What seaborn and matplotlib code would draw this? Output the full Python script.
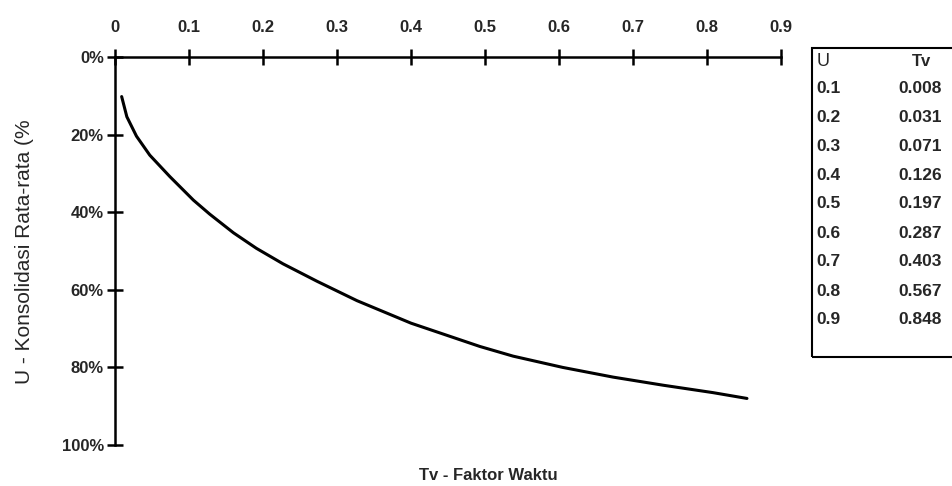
import matplotlib
matplotlib.use("Agg")
import matplotlib.pyplot as plt
import seaborn as sns
import pandas as pd
from matplotlib.patches import Rectangle

# Curve (Tv, U in %)
tv_curve = [0.009, 0.016, 0.029, 0.047, 0.074, 0.106, 0.128, 0.160, 0.191, 0.227,
            0.273, 0.327, 0.40, 0.493, 0.538, 0.605, 0.673, 0.741, 0.808, 0.854]
u_curve = [10.2, 15.4, 20.4, 25.3, 30.8, 36.9, 40.5, 45.3, 49.3, 53.3,
           57.8, 62.8, 68.6, 74.6, 77.1, 80.0, 82.5, 84.6, 86.5, 88.0]

# Table values
table_u = ["0.1", "0.2", "0.3", "0.4", "0.5", "0.6", "0.7", "0.8", "0.9"]
table_tv = ["0.008", "0.031", "0.071", "0.126", "0.197", "0.287", "0.403", "0.567", "0.848"]

x_ticks = [0, 0.1, 0.2, 0.3, 0.4, 0.5, 0.6, 0.7, 0.8, 0.9]
x_tick_labels = ["0", "0.1", "0.2", "0.3", "0.4", "0.5", "0.6", "0.7", "0.8", "0.9"]
y_ticks = [0, 20, 40, 60, 80, 100]
y_tick_labels = ["0%", "20%", "40%", "60%", "80%", "100%"]

sns.set_style("white")
plt.rcParams["font.family"] = ["Liberation Sans", "DejaVu Sans"]

W, H = 952, 486
fig = plt.figure(figsize=(W / 100, H / 100), dpi=100)
ax = fig.add_axes([115 / W, 1 - 445 / H, (781 - 115) / W, (445 - 57) / H])

df = pd.DataFrame({"Tv": tv_curve, "U": u_curve})
sns.lineplot(data=df, x="Tv", y="U", sort=False, color="black", linewidth=2.2, ax=ax)

ax.set_xlim(0, 0.9)
ax.set_ylim(100, 0)
ax.xaxis.set_ticks_position("top")
ax.set_xticks(x_ticks)
ax.set_xticklabels(x_tick_labels, fontsize=12, fontweight="bold")
ax.set_yticks(y_ticks)
ax.set_yticklabels(y_tick_labels, fontsize=12, fontweight="bold")
ax.tick_params(axis="both", direction="inout", length=12, width=1.8, color="black",
               left=True, top=True, bottom=False, right=False)
ax.tick_params(axis="x", pad=10)
ax.tick_params(axis="y", pad=2)

for side in ["right", "bottom"]:
    ax.spines[side].set_visible(False)
for side in ["top", "left"]:
    ax.spines[side].set_visible(True)
    ax.spines[side].set_linewidth(1.8)
    ax.spines[side].set_color("black")

ax.set_xlabel("")
ax.set_ylabel("")
ax.grid(False)

fig.text(488 / W, 1 - 475 / H, "Tv - Faktor Waktu", ha="center", va="center",
         fontsize=12, fontweight="bold")
fig.text(25 / W, 1 - 252 / H, "U - Konsolidasi Rata-rata (%", ha="center", va="center",
         rotation=90, fontsize=15)

# Table box
fig.patches.append(Rectangle((812 / W, 1 - 357 / H), (965 - 812) / W, (357 - 48) / H,
                             transform=fig.transFigure, fill=False, edgecolor="black",
                             linewidth=1.5, clip_on=False))
fig.text(817 / W, 1 - 62 / H, "U", ha="left", va="center", fontsize=13)
fig.text(921 / W, 1 - 62 / H, "Tv", ha="center", va="center", fontsize=12, fontweight="bold")
row0 = 88
step = (320 - 88) / 8
for i, (u, t) in enumerate(zip(table_u, table_tv)):
    y = 1 - (row0 + i * step) / H
    fig.text(816 / W, y, u, ha="left", va="center", fontsize=12.5, fontweight="bold")
    fig.text(920 / W, y, t, ha="center", va="center", fontsize=12.5, fontweight="bold")

fig.savefig("out.png", dpi=100)
